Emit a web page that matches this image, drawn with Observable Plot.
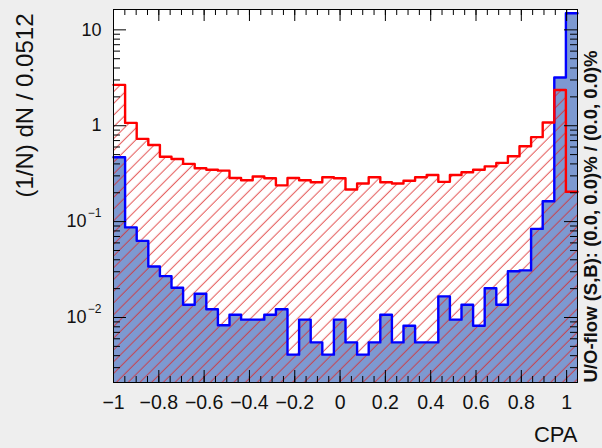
<!DOCTYPE html>
<html><head><meta charset="utf-8">
<script src="https://cdn.jsdelivr.net/npm/d3@7"></script>
<script src="https://cdn.jsdelivr.net/npm/@observablehq/plot@0.6"></script>
<style>
html,body{margin:0;padding:0;background:#eeeeee;}
#chart svg{display:block;}
</style></head><body><div id="chart"></div>
<script>
// ---- data ----
const binLow = -1;
const binWidth = 0.0512;
const signal = [0.47, 0.087, 0.063, 0.034, 0.027, 0.0204, 0.0136, 0.0177, 0.0122, 0.0083,
  0.0107, 0.0095, 0.0095, 0.0107, 0.0122, 0.0041, 0.0095, 0.0055, 0.0041, 0.0095,
  0.0055, 0.0041, 0.0055, 0.0107, 0.0055, 0.0082, 0.0055, 0.0055, 0.0166, 0.0095,
  0.0136, 0.0082, 0.0202, 0.0136, 0.0304, 0.031, 0.084, 0.163, 3.19, 14.9];
const background = [2.67, 1.07, 0.73, 0.63, 0.475, 0.45, 0.40, 0.36, 0.348, 0.34,
  0.285, 0.27, 0.295, 0.283, 0.239, 0.285, 0.27, 0.257, 0.29, 0.283,
  0.216, 0.25, 0.29, 0.257, 0.25, 0.267, 0.29, 0.306, 0.26, 0.306,
  0.327, 0.348, 0.377, 0.41, 0.48, 0.61, 0.76, 1.08, 2.36, 0.205];
const xTicks = [-1, -0.8, -0.6, -0.4, -0.2, 0, 0.2, 0.4, 0.6, 0.8, 1];
const xTickLabels = ["\u22121", "\u22120.8", "\u22120.6", "\u22120.4", "\u22120.2", "0", "0.2", "0.4", "0.6", "0.8", "1"];
const yTicks = [10, 1, 0.1, 0.01];
const yTickBase = ["10", "1", "10", "10"];
const yTickExp = ["", "", "\u22121", "\u22122"];
const xTitle = "CPA";
const yTitle = "(1/N) dN / 0.0512";
const flowText = "U/O-flow (S,B): (0.0, 0.0)% / (0.0, 0.0)%";

// ---- layout ----
const W = 602, H = 448;
const mL = 113, mR = 25, mT = 9, mB = 66;
const fw = W - mL - mR, fh = H - mT - mB;
const xDomain = [binLow, binLow + binWidth * signal.length];
const yDomain = [0.0021, 16.3];

function steps(vals) {
  const pts = vals.map((v, i) => ({x: binLow + i * binWidth, v}));
  pts.push({x: binLow + vals.length * binWidth, v: vals[vals.length - 1]});
  return pts;
}
const sigPts = steps(signal);
const bkgPts = steps(background);

const xMinor = d3.range(0, 41).map(i => -1 + i * 0.05).filter(v => v <= xDomain[1]);
const yMinor = [];
for (let e = -3; e <= 1; e++) for (let m = 2; m <= 9; m++) {
  const v = m * Math.pow(10, e);
  if (v >= yDomain[0] && v <= yDomain[1]) yMinor.push(v);
}
const yExpIdx = yTicks.map((d, i) => i).filter(i => yTickExp[i] !== "");
const yPlainIdx = yTicks.map((d, i) => i).filter(i => yTickExp[i] === "");

const font = "Liberation Sans, Arial, Helvetica, sans-serif";
const txt = "#111";

const svg = Plot.plot({
  width: W, height: H,
  marginLeft: mL, marginRight: mR, marginTop: mT, marginBottom: mB,
  style: {background: "#eeeeee", fontFamily: font, color: txt, overflow: "visible"},
  x: {domain: xDomain, axis: null},
  y: {type: "log", domain: yDomain, axis: null},
  marks: [
    Plot.frame({fill: "white", stroke: null}),
    Plot.areaY(sigPts, {x: "x", y1: () => yDomain[0], y2: "v", curve: "step-after", fill: "#7d99d1"}),
    Plot.areaY(bkgPts, {x: "x", y1: () => yDomain[0], y2: "v", curve: "step-after", fill: "#ff0000", className: "bkg"}),
    Plot.line(sigPts, {x: "x", y: "v", curve: "step-after", stroke: "#0000ff", strokeWidth: 2.4}),
    Plot.line(bkgPts, {x: "x", y: "v", curve: "step-after", stroke: "#ff0000", strokeWidth: 2.4}),
    // x ticks (inward, bottom & top)
    Plot.tickX(xMinor, {x: d => d, insetTop: fh - 6, stroke: "black"}),
    Plot.tickX(xTicks, {x: d => d, insetTop: fh - 12, stroke: "black"}),
    Plot.tickX(xMinor, {x: d => d, insetBottom: fh - 6, stroke: "black"}),
    Plot.tickX(xTicks, {x: d => d, insetBottom: fh - 12, stroke: "black"}),
    // y ticks (inward, left & right)
    Plot.tickY(yMinor, {y: d => d, insetRight: fw - 7, stroke: "black"}),
    Plot.tickY(yTicks, {y: d => d, insetRight: fw - 13, stroke: "black"}),
    Plot.tickY(yMinor, {y: d => d, insetLeft: fw - 7, stroke: "black"}),
    Plot.tickY(yTicks, {y: d => d, insetLeft: fw - 13, stroke: "black"}),
    Plot.frame({stroke: "black", strokeWidth: 1}),
    // tick labels
    Plot.text(xTicks, {x: d => d, text: (d, i) => xTickLabels[i], frameAnchor: "bottom", dy: 20, lineAnchor: "middle", fontSize: 19.5, fill: txt}),
    Plot.text(yPlainIdx, {y: i => yTicks[i], text: i => yTickBase[i], frameAnchor: "left", dx: -12, textAnchor: "end", lineAnchor: "middle", fontSize: 18, fill: txt}),
    Plot.text(yExpIdx, {y: i => yTicks[i], text: i => yTickBase[i], frameAnchor: "left", dx: -27, textAnchor: "end", lineAnchor: "middle", fontSize: 18, fill: txt}),
    Plot.text(yExpIdx, {y: i => yTicks[i], text: i => yTickExp[i], frameAnchor: "left", dx: -12, dy: -8, textAnchor: "end", lineAnchor: "middle", fontSize: 12, fill: txt}),
    // titles
    Plot.text([xTitle], {frameAnchor: "bottom-right", dy: 52, textAnchor: "end", lineAnchor: "middle", fontSize: 22, fill: txt}),
    Plot.text([yTitle], {frameAnchor: "top-left", dx: -88, dy: 4, rotate: -90, textAnchor: "end", lineAnchor: "middle", fontSize: 24, fill: txt}),
    Plot.text([flowText], {frameAnchor: "bottom-right", dx: 14, rotate: -90, textAnchor: "start", lineAnchor: "middle", fontSize: 18.5, fontWeight: "bold", fill: txt})
  ]
});

// hatch pattern for background histogram
const defs = d3.select(svg).insert("defs", ":first-child");
const pat = defs.append("pattern").attr("id", "hatch")
  .attr("patternUnits", "userSpaceOnUse").attr("width", 8.3).attr("height", 8.3)
  .attr("patternTransform", "rotate(45)");
pat.append("line").attr("x1", 4).attr("y1", -1).attr("x2", 4).attr("y2", 9.3)
  .attr("stroke", "#dd2a2a").attr("stroke-width", 0.8);
d3.select(svg).selectAll("g.bkg, g.bkg path").attr("fill", "url(#hatch)");

document.getElementById("chart").appendChild(svg);
</script></body></html>
